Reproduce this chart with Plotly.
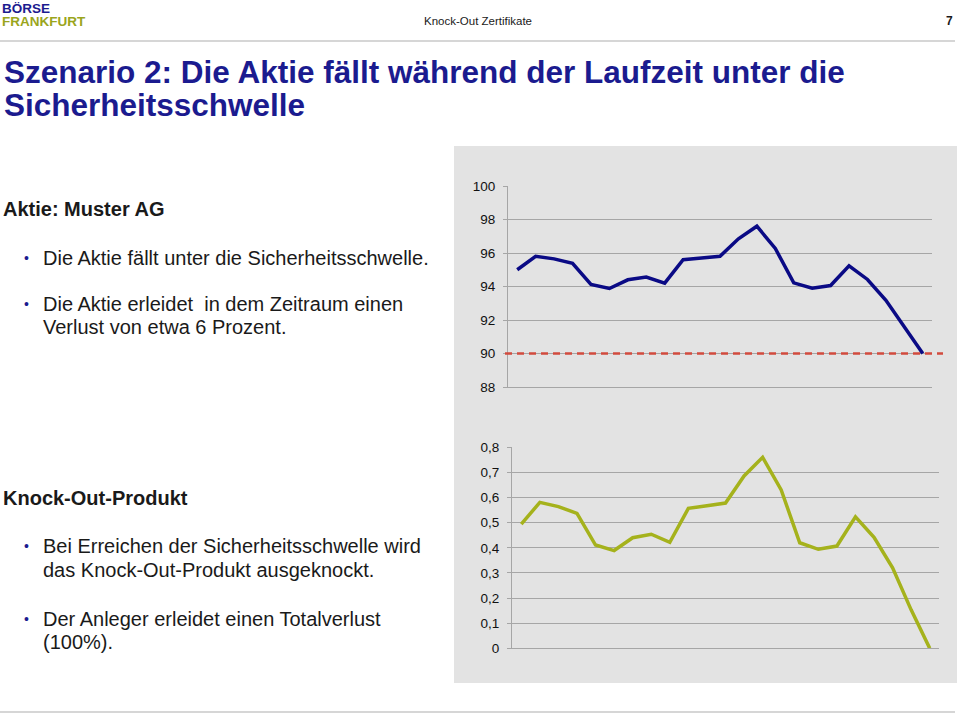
import plotly.graph_objects as go

# ---------------- data ----------------
periods = list(range(1, 24))
aktie_kurs = [95.0, 95.8, 95.65, 95.38, 94.12, 93.88, 94.4, 94.56, 94.2, 95.6, 95.7, 95.8,
              96.85, 97.6, 96.27, 94.22, 93.9, 94.06, 95.24, 94.42, 93.18, 91.6, 90.0]
knockout_wert = [0.494, 0.581, 0.564, 0.537, 0.411, 0.389, 0.44, 0.454, 0.422, 0.557, 0.567, 0.578,
                 0.686, 0.76, 0.63, 0.42, 0.394, 0.407, 0.523, 0.442, 0.32, 0.153, 0.0]
schwelle = 90
top_ticks = [88, 90, 92, 94, 96, 98, 100]
bottom_ticks = [0, 0.1, 0.2, 0.3, 0.4, 0.5, 0.6, 0.7, 0.8]

W, H = 960, 715
def px(x):
    return x / W
def py(y):
    return 1 - y / H

FONT = "Liberation Sans, Arial, sans-serif"
NAVY = "#1b1b8f"
TEXT = "#1a1a1a"
GRID = "#a6a6a6"

fig = go.Figure()

fig.add_trace(go.Scatter(x=periods, y=aktie_kurs, mode="lines",
                         line=dict(color="#0a0a85", width=3.5), xaxis="x", yaxis="y",
                         showlegend=False, hoverinfo="skip"))
fig.add_trace(go.Scatter(x=periods, y=knockout_wert, mode="lines",
                         line=dict(color="#a5b21c", width=3.5), xaxis="x2", yaxis="y2",
                         showlegend=False, hoverinfo="skip"))

shapes = []
# gray chart panel
shapes.append(dict(type="rect", xref="paper", yref="paper", x0=px(454), x1=px(957),
                   y0=py(683), y1=py(146), fillcolor="#e3e3e3", line=dict(width=0), layer="below"))
# header / footer lines
shapes.append(dict(type="line", xref="paper", yref="paper", x0=0, x1=px(955), y0=py(41), y1=py(41),
                   line=dict(color="#c8c8c8", width=1.5)))
shapes.append(dict(type="line", xref="paper", yref="paper", x0=0, x1=px(955), y0=py(712), y1=py(712),
                   line=dict(color="#c8c8c8", width=1.5)))
# threshold
shapes.append(dict(type="line", xref="paper", yref="y", x0=px(505), x1=px(943), y0=schwelle, y1=schwelle,
                   line=dict(color="#d24b3e", width=2.5, dash="7px,5px"), layer="above"))

axis_common = dict(showgrid=False, zeroline=False, showticklabels=False, ticks="",
                   showline=True, linecolor=GRID, linewidth=1, fixedrange=True, automargin=False)
yaxis_common = dict(showgrid=True, gridcolor=GRID, gridwidth=1, zeroline=False, showline=True,
                    linecolor=GRID, linewidth=1, ticks="outside", ticklen=4, tickcolor=GRID,
                    tickfont=dict(family=FONT, size=13.5, color="#111111"), fixedrange=True,
                    automargin=False, ticklabelstandoff=5)

fig.update_layout(
    template="none",
    width=W, height=H,
    margin=dict(l=0, r=0, t=0, b=0, pad=0, autoexpand=False),
    paper_bgcolor="white", plot_bgcolor="rgba(0,0,0,0)",
    separators=",.",
    showlegend=False,
    shapes=shapes,
    xaxis=dict(domain=[px(508), px(932)], range=[0.5, 23.5], anchor="y", **axis_common),
    yaxis=dict(domain=[py(387), py(186)], range=[88, 100], tickvals=top_ticks, anchor="x",
               **yaxis_common),
    xaxis2=dict(domain=[px(512), px(939)], range=[0.5, 23.5], anchor="y2", **axis_common),
    yaxis2=dict(domain=[py(648.3), py(447.3)], range=[0, 0.8], tickvals=bottom_ticks, anchor="x2",
                **yaxis_common),
)

ann = []
def text(x, y, s, size, color=TEXT, bold=False, family=FONT, xanchor="left"):
    if bold:
        s = "<b>" + s + "</b>"
    ann.append(dict(x=px(x), y=py(y), xref="paper", yref="paper", text=s, showarrow=False,
                    xanchor=xanchor, yanchor="middle", align="left", borderpad=0,
                    font=dict(family=family, size=size, color=color)))

# header
text(1, 8, "BÖRSE", 13.5, color=NAVY, bold=True)
text(1, 21, "FRANKFURT", 13.5, color="#9aa51c", bold=True)
text(478, 21, "Knock-Out Zertifikate", 11.5, color=TEXT, xanchor="center")
text(954, 21, "7", 12, color=TEXT, bold=True, xanchor="right")

# title
text(3, 72, "Szenario 2: Die Aktie fällt während der Laufzeit unter die", 31.5, color=NAVY, bold=True)
text(3, 105, "Sicherheitsschwelle", 31.5, color=NAVY, bold=True)

# left text
text(2, 209, "Aktie: Muster AG", 20, bold=True)
def bullet(y):
    text(23, y, "•", 14, color=NAVY)
bullet(257.5)
text(42, 257.5, "Die Aktie fällt unter die Sicherheitsschwelle.", 20)
bullet(304)
text(42, 304, "Die Aktie erleidet  in dem Zeitraum einen", 20)
text(42, 327, "Verlust von etwa 6 Prozent.", 20)

text(2, 498, "Knock-Out-Produkt", 20, bold=True)
bullet(546)
text(42, 546, "Bei Erreichen der Sicherheitsschwelle wird", 20)
text(42, 570, "das Knock-Out-Produkt ausgeknockt.", 20)
bullet(619)
text(42, 619, "Der Anleger erleidet einen Totalverlust", 20)
text(42, 642, "(100%).", 20)

fig.update_layout(annotations=ann)
fig.write_html("out.html", config={"displayModeBar": False, "staticPlot": True},
               post_script="document.body.style.margin='0';document.body.style.padding='0';")
